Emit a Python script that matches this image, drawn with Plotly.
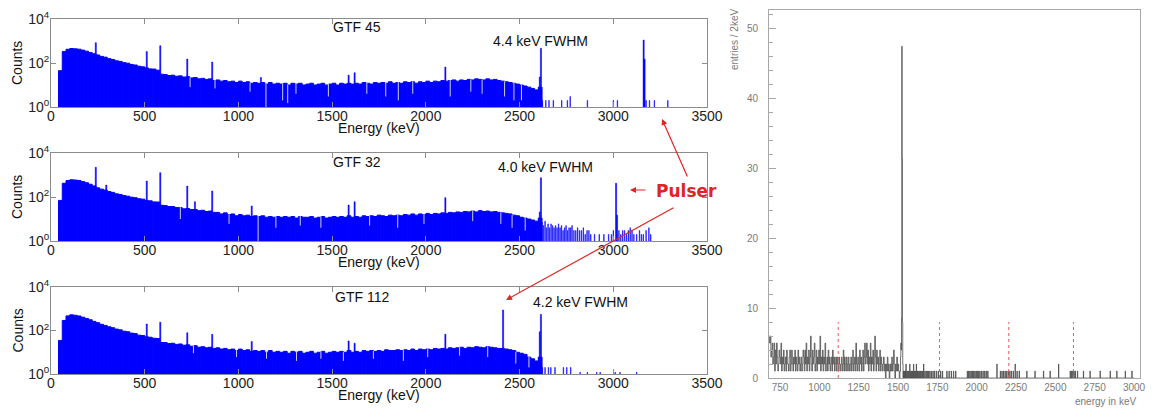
import plotly.graph_objects as go

# ---------------- data ----------------
CONT_START = 40      # keV, left edge of first continuum bin
CONT_BIN = 20        # keV
energy_ticks = [0, 500, 1000, 1500, 2000, 2500, 3000, 3500]

gtf45_cont = [45, 330, 420, 455, 440, 425, 385, 345, 300, 262,
              232, 200, 184, 158, 145, 126, 118, 104, 98, 86,
              81, 71, 67, 60, 54, 53, 47, 31, 30, 27,
              28, 25, 26, 23, 24, 21, 22, 19, 20, 18,
              19, 16, 17, 15, 16, 14, 15, 13, 15, 13,
              14, 12, 13, 12, 13, 11, 13, 11, 12, 11,
              12, 10, 12, 11, 12, 10, 11, 12, 10, 11,
              12, 10, 11, 12, 10, 12, 11, 12, 11, 12,
              11, 13, 12, 11, 13, 12, 13, 12, 14, 12,
              13, 12, 14, 13, 14, 12, 14, 13, 15, 13,
              15, 14, 16, 15, 16, 17, 15, 17, 16, 18,
              17, 19, 18, 17, 19, 17, 18, 16, 15, 14,
              13, 12, 11, 10, 9, 8, 7, 6, 8]
gtf32_cont = [70, 420, 560, 605, 590, 565, 500, 445, 380, 320,
              262, 228, 206, 178, 162, 139, 130, 116, 109, 98,
              93, 83, 80, 70, 67, 60, 59, 42, 41, 37,
              37, 33, 33, 29, 30, 27, 27, 24, 25, 22,
              23, 20, 20, 17, 19, 16, 17, 14, 16, 14,
              15, 13, 14, 13, 14, 12, 13, 12, 13, 12,
              13, 12, 13, 11, 13, 12, 12, 13, 11, 12,
              13, 11, 12, 13, 12, 13, 12, 14, 12, 13,
              12, 14, 13, 14, 13, 15, 14, 13, 15, 14,
              15, 14, 16, 15, 17, 15, 17, 16, 18, 16,
              18, 17, 19, 18, 20, 19, 21, 20, 22, 21,
              23, 21, 24, 22, 23, 21, 22, 20, 19, 18,
              17, 15, 14, 12, 11, 10, 9, 8, 11]
gtf112_cont = [35, 290, 470, 525, 500, 465, 410, 360, 312, 262,
               228, 192, 172, 148, 134, 116, 107, 93, 88, 76,
               72, 61, 59, 51, 49, 44, 43, 28, 28, 25,
               26, 23, 24, 21, 22, 19, 20, 17, 18, 16,
               17, 15, 16, 14, 15, 13, 14, 12, 14, 12,
               13, 11, 12, 11, 12, 10, 12, 10, 11, 10,
               11, 9, 11, 10, 11, 9, 10, 11, 9, 10,
               11, 9, 10, 11, 10, 11, 10, 12, 10, 11,
               10, 12, 11, 12, 11, 12, 11, 13, 12, 12,
               13, 12, 13, 12, 14, 12, 14, 13, 14, 13,
               15, 14, 15, 14, 16, 15, 16, 17, 15, 17,
               16, 18, 17, 16, 18, 17, 16, 15, 15, 14,
               13, 12, 10, 9, 8, 6, 5, 4, 6]

gtf45_peak_e = [239, 511, 583, 727, 860, 1120, 1588, 1620, 2104, 2608, 2614, 3162, 3167]
gtf45_peak_n = [840, 330, 610, 152, 111, 22, 28, 36, 65, 23, 465, 1100, 150]
gtf32_peak_e = [239, 295, 511, 583, 727, 768, 860, 1071, 1588, 1620, 2104, 2608, 2614, 3015, 3020]
gtf32_peak_n = [2240, 350, 530, 1270, 315, 61, 187, 39, 43, 61, 93, 21, 750, 420, 15]
gtf112_peak_e = [511, 583, 727, 860, 1071, 1588, 1620, 2104, 2412, 2608, 2614]
gtf112_peak_n = [200, 240, 79, 67, 31, 33, 26, 67, 875, 88, 550]

gtf45_tail_e = [2622, 2640, 2657, 2680, 2725, 2755, 2770, 2862, 3000, 3022, 3175, 3193, 3219, 3291]
gtf45_tail_n = [2, 2, 2, 2, 2, 2, 3, 2, 2, 2, 2, 2, 2, 2]
gtf32_tail_e = [2620, 2628, 2636, 2644, 2652, 2660, 2668, 2676, 2684, 2692, 2700,
                2708, 2716, 2724, 2732, 2740, 2748, 2756, 2764, 2772, 2780,
                2790, 2800, 2810, 2820, 2830, 2840, 2850, 2860, 2870, 2880,
                2900, 2925, 2950, 2975, 2990, 3000,
                3030, 3040, 3050, 3060, 3070, 3080, 3090, 3100, 3110,
                3125, 3140, 3150, 3160, 3175, 3190, 3200]
gtf32_tail_n = [7, 5, 8, 4, 6, 4, 6, 5, 4, 5, 4,
                6, 4, 5, 3, 4, 5, 3, 4, 4, 5,
                3, 3, 4, 3, 3, 4, 2, 3, 3, 2,
                2, 2, 2, 2, 2, 3,
                3, 2, 3, 3, 2, 3, 4, 3, 2,
                2, 3, 2, 2, 3, 4, 2]
gtf112_tail_e = [2622, 2636, 2654, 2667, 2689, 2734, 2752, 2773,
                 2823, 2862, 2912, 2930, 3010, 3036, 3125]
gtf112_tail_n = [2, 2, 2, 2, 2, 2, 2, 2, 1.2, 1.2, 1.2, 1.2, 1.2, 1.2, 1.2]

gtf45_dip_e = [742, 875, 1062, 1147, 1236, 1263, 1307, 1480, 1685, 1786, 1853, 1930, 2130, 2240, 2300, 2420, 2470, 2510]
gtf45_dip_n = [8, 7, 5, 1, 2, 1.5, 4, 3, 4, 3, 2, 4, 3, 5, 4, 3, 2, 2]
gtf32_dip_e = [690, 950, 1105, 1200, 1330, 1440, 1700, 1850, 1990, 2250, 2400, 2460, 2530]
gtf32_dip_n = [10, 6, 1, 4, 5, 4, 5, 4, 6, 8, 6, 4, 3]
gtf112_dip_e = [760, 990, 1150, 1310, 1440, 1560, 1720, 1880, 2010, 2180, 2330, 2480, 2550]
gtf112_dip_n = [9, 6, 5, 4, 5, 4, 5, 4, 6, 7, 6, 3, 2]

panel_names = ["GTF 45", "GTF 32", "GTF 112"]
fwhm_labels = ["4.4 keV FWHM", "4.0 keV FWHM", "4.2 keV FWHM"]

# right panel: entries per bin
R_NOISE_START = 680
R_NOISE_BIN = 4
right_noise = [6, 5, 6, 3, 4,
               5, 2, 3, 5, 1, 4, 2, 5, 3, 1, 2, 4, 3, 2, 5,
               1, 3, 2, 4, 1, 2, 3, 1, 4, 2, 2, 1, 3, 4, 1, 2, 4, 2, 1, 3,
               2, 4, 1, 3, 2, 1, 4, 2, 3, 1, 2, 3, 1, 2, 4,
               3, 1, 4, 2, 5, 1, 3, 2, 4, 1, 3, 6, 2, 1, 4, 2, 3, 5, 1, 2, 4, 1, 3, 2, 4,
               2, 6, 1, 3, 2, 4, 1, 3, 2, 5, 1, 2, 3, 1, 4, 2, 3, 1, 2, 3, 1, 4, 2, 3, 1,
               2, 3, 1, 3, 2, 1, 3, 2, 1, 2, 3, 1, 2, 4, 1, 3, 2, 1, 3, 2, 1, 3, 2, 1, 2,
               3, 1, 2, 4, 1, 2, 3, 1, 5, 2, 1, 3, 2, 1, 4, 2, 3, 1, 2, 4, 1, 3, 5, 2, 3,
               5, 2, 4, 1, 3, 2, 5, 1, 3, 2, 4, 1, 2, 6, 3, 1, 4, 2, 3, 1, 2, 4, 1, 3, 2,
               1, 2, 3, 1, 2, 0, 2, 1, 3, 1, 2, 0, 1, 2, 1, 3, 1, 2, 4, 1, 0, 2, 1, 3, 1, 2, 1, 0, 1]
right_peak_e = [1516, 1518, 1520, 1522, 1524, 1526, 1528, 1530]
right_peak_n = [3, 5, 4, 8.6, 47.5, 31.4, 8, 2]
right_event_e = [1534, 1540, 1546, 1550, 1556, 1562, 1568, 1574, 1580, 1586, 1592, 1598, 1604,
                 1610, 1616, 1622, 1628, 1636, 1642, 1650, 1656, 1662, 1670, 1678, 1686, 1694,
                 1702, 1712, 1722, 1732, 1744, 1756, 1770, 1782, 1810, 1824, 1838, 1852, 1866,
                 1940, 1948, 1956, 1964, 1972, 1980, 1988, 1996, 2004, 2012, 2020, 2030, 2040,
                 2050, 2060, 2070, 2128, 2150, 2160, 2170, 2180, 2190, 2200, 2210, 2220, 2232,
                 2244, 2256, 2270, 2318, 2370, 2424, 2466, 2520, 2594, 2602, 2610, 2618, 2626,
                 2640, 2678, 2720, 2784, 2848, 2890, 2944, 2986]
right_event_n = [1, 1, 1, 2, 1, 1, 1, 2, 1, 1, 1, 2, 1,
                 1, 2, 1, 1, 1, 1, 1, 1, 2, 1, 1, 1, 1,
                 1, 1, 1, 1, 1, 1, 1, 1, 1, 1, 1, 1, 1,
                 1, 1, 1, 1, 1, 1, 1, 1, 1, 1, 1, 1, 1,
                 1, 1, 1, 2, 1, 1, 1, 1, 1, 1, 1, 1, 1,
                 2, 1, 1, 1, 1, 1, 1, 2, 1, 1, 1, 1, 1,
                 1, 1, 1, 1, 1, 1, 1, 1]
R_EVENT_BIN = 2
R_END = 3000
marker_lines_e = [1120, 1764, 2204, 2615]
marker_line_height = 8
right_xticks = [750, 1000, 1250, 1500, 1750, 2000, 2250, 2500, 2750, 3000]
right_yticks = [0, 10, 20, 30, 40, 50]

# ---------------- figure ----------------
W, H = 1155, 408
def px(x):
    return x / W
def py(y):
    return 1 - y / H

BLUE = "#0000ff"
FONT = "Liberation Sans"
fig = go.Figure()

panels = [
    (gtf45_cont, gtf45_peak_e, gtf45_peak_n, gtf45_tail_e, gtf45_tail_n, gtf45_dip_e, gtf45_dip_n),
    (gtf32_cont, gtf32_peak_e, gtf32_peak_n, gtf32_tail_e, gtf32_tail_n, gtf32_dip_e, gtf32_dip_n),
    (gtf112_cont, gtf112_peak_e, gtf112_peak_n, gtf112_tail_e, gtf112_tail_n, gtf112_dip_e, gtf112_dip_n),
]
panel_pix = [(19, 107), (153, 241), (287, 374)]
for i, (cont, pe, pn, te, tn, de, dn) in enumerate(panels):
    xa = "x" if i == 0 else f"x{i+1}"
    ya = "y" if i == 0 else f"y{i+1}"
    centers = [CONT_START + CONT_BIN * (k + 0.5) for k in range(len(cont))]
    fig.add_trace(go.Bar(x=centers, y=cont, width=CONT_BIN, marker_color=BLUE,
                         marker_line=dict(width=1, color=BLUE), xaxis=xa, yaxis=ya, showlegend=False))
    fig.add_trace(go.Bar(x=te, y=tn, width=3, marker_color=BLUE,
                         marker_line=dict(width=0.5, color=BLUE), xaxis=xa, yaxis=ya, showlegend=False))
    fig.add_trace(go.Bar(x=pe, y=pn, width=6, marker_color=BLUE,
                         marker_line=dict(width=0.5, color=BLUE), xaxis=xa, yaxis=ya, showlegend=False))
    dx, dy = [], []
    for e, n in zip(de, dn):
        k = int((e - CONT_START) // CONT_BIN)
        dx += [e, e, None]
        dy += [n, cont[k] * 1.05, None]
    fig.add_trace(go.Scatter(x=dx, y=dy, mode="lines",
                             line=dict(color="rgba(225,225,255,0.9)", width=1),
                             xaxis=xa, yaxis=ya, showlegend=False, hoverinfo="skip"))

# right panel histogram
rx, ry = [], []
for k, n in enumerate(right_noise):
    rx.append(R_NOISE_START + R_NOISE_BIN * k)
    ry.append(n)
for e, n in zip(right_peak_e, right_peak_n):
    rx.append(e)
    ry.append(n)
ev = dict(zip(right_event_e, right_event_n))
b = right_peak_e[-1] + R_EVENT_BIN
while b <= R_END:
    rx.append(b)
    ry.append(ev.get(b, 0))
    b += R_EVENT_BIN
fig.add_trace(go.Scatter(x=rx, y=ry, mode="lines", line=dict(color="#4a4a4a", width=0.8, shape="hv"),
                         xaxis="x4", yaxis="y4", showlegend=False))
mx, my = [], []
for e in marker_lines_e:
    mx += [e, e, None]
    my += [0, marker_line_height, None]
fig.add_trace(go.Scatter(x=mx, y=my, mode="lines",
                         line=dict(color="#e85a5a", width=1, dash="dot"),
                         xaxis="x4", yaxis="y4", showlegend=False))

# axes
ax_common = dict(showline=True, linecolor="#8c8c8c", linewidth=1, mirror="ticks", ticks="inside",
                 ticklen=5, tickcolor="#8c8c8c", showgrid=False, zeroline=False, automargin=False,
                 tickfont=dict(family=FONT, size=14, color="#222"))
layout = dict(width=W, height=H, margin=dict(l=0, r=0, t=0, b=0), paper_bgcolor="white",
              plot_bgcolor="white", barmode="overlay", showlegend=False)
for i, (top, bot) in enumerate(panel_pix):
    xk = "xaxis" if i == 0 else f"xaxis{i+1}"
    yk = "yaxis" if i == 0 else f"yaxis{i+1}"
    ya = "y" if i == 0 else f"y{i+1}"
    xa = "x" if i == 0 else f"x{i+1}"
    layout[xk] = dict(ax_common, domain=[px(51), px(707)], range=[0, 3500], tickvals=energy_ticks,
                      anchor=ya, ticklabelstandoff=-4)
    layout[yk] = dict(ax_common, domain=[py(bot), py(top)], type="log", range=[0, 4],
                      tickvals=[1, 100, 10000],
                      ticktext=["10<sup>0</sup>", "10<sup>2</sup>", "10<sup>4</sup>"], anchor=xa,
                      ticklabelstandoff=-2)

gray_font = dict(family=FONT, size=10, color="#7a7a7a")
layout["xaxis4"] = dict(domain=[px(769), px(1140)], range=[680, 3038], tickvals=right_xticks,
                        showline=True, linecolor="#a8a8a8", mirror=True, ticks="", showgrid=False,
                        zeroline=False, automargin=False, tickfont=gray_font, anchor="y4",
                        ticklabelstandoff=0)
layout["yaxis4"] = dict(domain=[py(378), py(10)], range=[0, 52.7], tickvals=right_yticks,
                        showline=True, linecolor="#a8a8a8", mirror=True, ticks="inside", ticklen=7,
                        tickcolor="#a8a8a8", showgrid=False, zeroline=False, automargin=False,
                        tickfont=gray_font, ticklabelstandoff=8, anchor="x4",
                        minor=dict(dtick=2, ticks="inside", ticklen=4, tickcolor="#a8a8a8", showgrid=False))
fig.update_layout(**layout)

ann = []
txt = dict(family=FONT, size=14, color="#111")
name_pos = [(357, 27), (357, 162), (362, 297)]
fwhm_pos = [(540, 41), (545, 167), (580, 302)]
base = dict(xref="paper", yref="paper", showarrow=False, xanchor="center", yanchor="middle")
for i, (top, bot) in enumerate(panel_pix):
    ann.append(dict(base, text="Counts", x=px(17), y=py((top + bot) / 2), textangle=-90, font=txt))
    ann.append(dict(base, text="Energy (keV)", x=px(379), y=py(bot + 21), font=txt))
    ann.append(dict(base, text=panel_names[i], x=px(name_pos[i][0]), y=py(name_pos[i][1]), font=txt))
    ann.append(dict(base, text=fwhm_labels[i], x=px(fwhm_pos[i][0]), y=py(fwhm_pos[i][1]), font=txt))

RED = "#e02424"
ann.append(dict(base, text="<b>Pulser</b>", x=px(686), y=py(191),
                font=dict(family="DejaVu Sans", size=17, color=RED)))
for hx, hy, tx, ty in [(662, 119, 688, 178), (506, 300, 675, 207), (630, 190, 647, 190)]:
    ann.append(dict(text="", x=px(hx), y=py(hy), ax=tx - hx, ay=ty - hy, xref="paper", yref="paper",
                    showarrow=True, arrowhead=2, arrowsize=1, arrowwidth=1.2, arrowcolor=RED, standoff=0))
ann.append(dict(base, text="entries / 2keV", x=px(735), y=py(40), textangle=-90, font=gray_font))
ann.append(dict(base, text="energy in keV", x=px(1138), y=py(401), xanchor="right", font=gray_font))
fig.update_layout(annotations=ann)

fig.write_html("out.html", config={"displayModeBar": False},
               post_script="document.body.style.margin='0';")
